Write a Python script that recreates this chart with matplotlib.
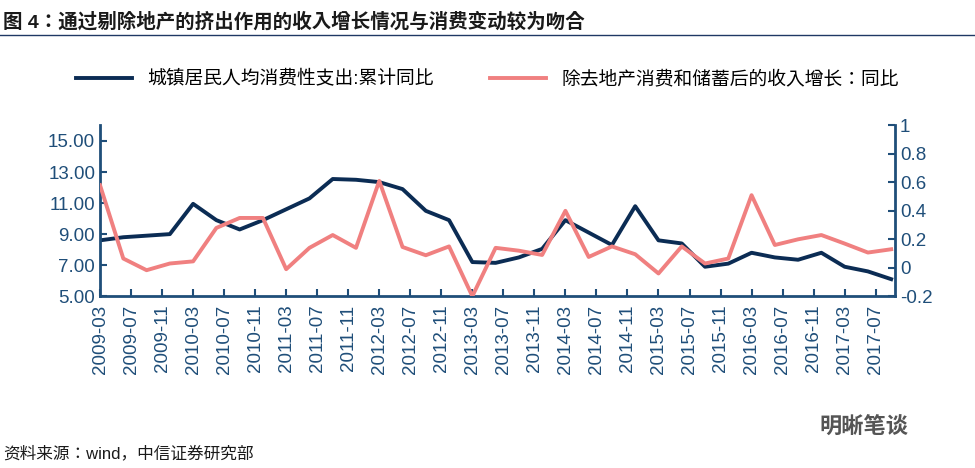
import numpy as np
import matplotlib.pyplot as plt
from matplotlib import font_manager

cjk = [f.name for f in font_manager.fontManager.ttflist if 'CJK' in f.name]
plt.rcParams['font.family'] = ['Liberation Sans'] + sorted(set(cjk))[:1] + ['DejaVu Sans']

# quarterly, 2009-03 .. 2017-09
spend = [8.6, 8.8, 8.9, 9.0, 10.95, 9.9, 9.3, 9.9, 10.6, 11.3, 12.55, 12.5, 12.35, 11.9,
         10.5, 9.9, 7.2, 7.15, 7.5, 8.05, 9.9, 9.1, 8.3, 10.8, 8.6, 8.4, 6.9, 7.1, 7.8,
         7.5, 7.35, 7.8, 6.9, 6.6, 6.1]
income = [0.58, 0.065, -0.017, 0.03, 0.045, 0.28, 0.35, 0.35, -0.01, 0.14, 0.23, 0.14,
          0.61, 0.146, 0.088, 0.15, -0.2, 0.14, 0.12, 0.09, 0.40, 0.076, 0.15, 0.095,
          -0.04, 0.15, 0.03, 0.065, 0.51, 0.16, 0.20, 0.23, 0.17, 0.107, 0.13]
tick_labels = [f'{2009 + (2 + 4 * k) // 12}-{(2 + 4 * k) % 12 + 1:02d}' for k in range(26)]

months = np.arange(len(spend)) * 3
tick_pos = np.arange(len(tick_labels)) * 4

axc = '#1F4E79'
fig = plt.figure(figsize=(9.75, 4.68), dpi=100)
ax = fig.add_axes([0.1026, 0.367, 0.8154, 0.365])
ax2 = ax.twinx()

l1, = ax.plot(months, spend, color='#0B2C54', lw=2.8, label='城镇居民人均消费性支出:累计同比')
l2, = ax2.plot(months, income, color='#F08080', lw=2.8, label='除去地产消费和储蓄后的收入增长：同比')

ax.set_xlim(0, months[-1] + 0.5)
ax.set_ylim(5, 16)
ax.set_yticks(np.arange(5, 16, 2))
ax.set_yticklabels([f'{v:.2f}' for v in np.arange(5, 16, 2)])
ax2.set_ylim(-0.2, 1.0)
ax2.set_yticks(np.arange(-0.2, 1.01, 0.2))
ax2.set_yticklabels(['-0.2', '0', '0.2', '0.4', '0.6', '0.8', '1'])
ax.set_xticks(tick_pos)
ax.set_xticklabels(tick_labels, rotation=90)

for a in (ax, ax2):
    for s in a.spines.values():
        s.set_visible(False)
    a.tick_params(colors=axc, labelsize=13.5, width=1.5, length=5)
ax.spines['left'].set_visible(True)
ax.spines['bottom'].set_visible(True)
ax2.spines['right'].set_visible(True)
for s in (ax.spines['left'], ax.spines['bottom'], ax2.spines['right']):
    s.set_color(axc)
    s.set_linewidth(2)
ax.tick_params(axis='x', direction='in', pad=6)
ax.tick_params(axis='y', direction='in')
ax2.tick_params(axis='y', direction='in')

fig.legend(handles=[l1, l2], loc='center', bbox_to_anchor=(0.5, 0.83), ncol=2,
           frameon=False, fontsize=13.5, handlelength=3, columnspacing=3)

fig.text(0.003, 0.975, '图 4：通过剔除地产的挤出作用的收入增长情况与消费变动较为吻合', fontsize=14,
         fontweight='bold', color='#1a1a1a', va='top')
fig.add_artist(plt.Line2D([0, 1], [0.925, 0.925], color='#1F3864', lw=1))
fig.text(0.003, 0.02, '资料来源：wind，中信证券研究部', fontsize=12, color='#1a1a1a')
fig.text(0.84, 0.075, '明晰笔谈', fontsize=16, color='#555555', fontweight='bold')

fig.savefig('out.png', dpi=100)
